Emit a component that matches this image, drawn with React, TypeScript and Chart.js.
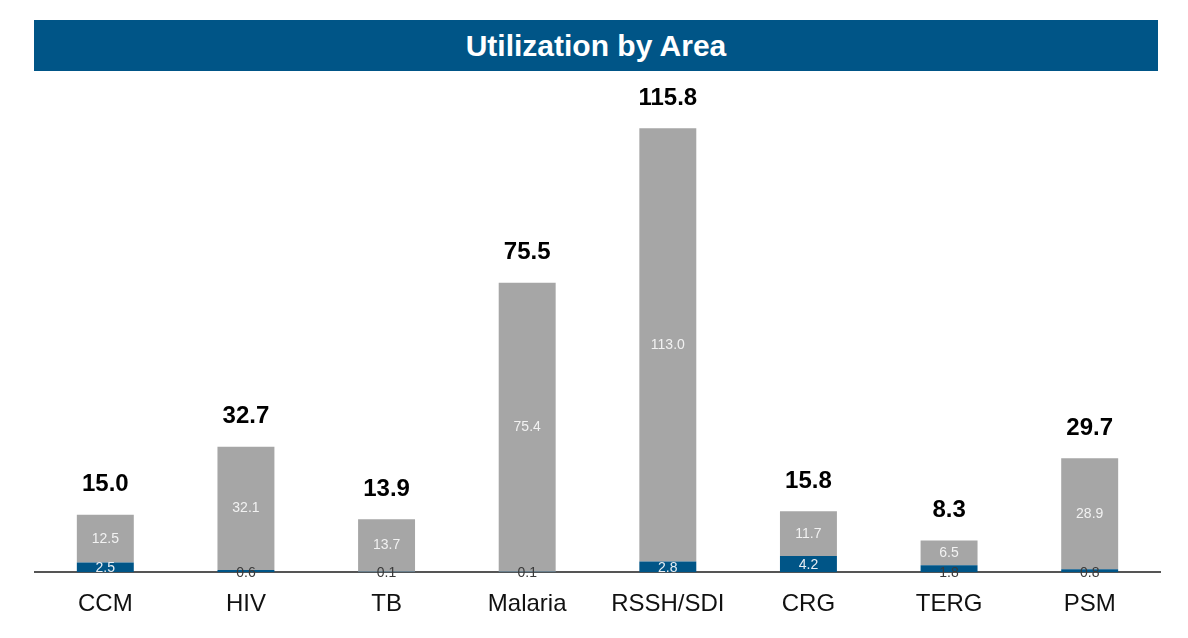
import React, { useEffect, useRef } from "react";
import { Chart, registerables } from "chart.js";

Chart.register(...registerables);

const categories = ["CCM", "HIV", "TB", "Malaria", "RSSH/SDI", "CRG", "TERG", "PSM"];
const blueValues = [2.5, 0.6, 0.1, 0.1, 2.8, 4.2, 1.8, 0.8];
const greyValues = [12.5, 32.1, 13.7, 75.4, 113.0, 11.7, 6.5, 28.9];
const totalValues = [15.0, 32.7, 13.9, 75.5, 115.8, 15.8, 8.3, 29.7];

const BLUE = "#005587";
const GREY = "#A6A6A6";
const FONT = "'Liberation Sans', Arial, sans-serif";

const labelPlugin = {
  id: "segLabels",
  afterDatasetsDraw(chart: any) {
    const ctx = chart.ctx;
    const yScale = chart.scales.y;
    ctx.save();
    ctx.textAlign = "center";
    ctx.textBaseline = "middle";
    chart.data.datasets.forEach((ds: any, di: number) => {
      const meta = chart.getDatasetMeta(di);
      meta.data.forEach((bar: any, i: number) => {
        const v = ds.data[i];
        const top = bar.y;
        const bottom = bar.base;
        const cy = (top + bottom) / 2;
        ctx.font = `14px ${FONT}`;
        if (di === 0) {
          ctx.fillStyle = v >= 2 ? "#E8EEF4" : "#3a3a3a";
          ctx.fillText(v.toFixed(1), bar.x, v >= 2 ? cy + 1 : bottom + 1);
        } else {
          ctx.fillStyle = "#F2F2F2";
          ctx.fillText(v.toFixed(1), bar.x, cy);
        }
      });
    });
    const meta1 = chart.getDatasetMeta(1);
    ctx.font = `bold 24px ${FONT}`;
    ctx.fillStyle = "#000";
    meta1.data.forEach((bar: any, i: number) => {
      const topY = yScale.getPixelForValue(blueValues[i] + greyValues[i]);
      ctx.fillText(totalValues[i].toFixed(1), bar.x, topY - 30);
    });
    ctx.restore();
  },
};

export default function App() {
  const ref = useRef<HTMLCanvasElement>(null);
  useEffect(() => {
    document.body.style.margin = "0";
    const chart = new Chart(ref.current!, {
      type: "bar",
      data: {
        labels: categories,
        datasets: [
          { label: "Blue", data: blueValues, backgroundColor: BLUE, barPercentage: 0.405, categoryPercentage: 1 },
          { label: "Grey", data: greyValues, backgroundColor: GREY, barPercentage: 0.405, categoryPercentage: 1 },
        ],
      },
      options: {
        responsive: false,
        animation: false,
        layout: { padding: { top: 93, left: 35, right: 28, bottom: 9 } },
        plugins: {
          legend: { display: false },
          tooltip: { enabled: false },
          title: { display: false },
        },
        scales: {
          x: {
            stacked: true,
            grid: { display: false },
            border: { display: true, color: "#555555", width: 2 },
            ticks: { color: "#111", font: { family: FONT, size: 24 }, padding: 10 },
          },
          y: {
            stacked: true,
            display: false,
            min: 0,
            max: 125,
          },
        },
      },
      plugins: [labelPlugin],
    });
    return () => chart.destroy();
  }, []);
  return (
    <div style={{ position: "relative", width: 1188, height: 638, background: "#fff" }}>
      <div
        style={{
          position: "absolute",
          left: 34,
          top: 20,
          width: 1124,
          height: 51,
          background: BLUE,
          color: "#fff",
          fontFamily: FONT,
          fontWeight: "bold",
          fontSize: 30,
          display: "flex",
          alignItems: "center",
          justifyContent: "center",
        }}
      >
        Utilization by Area
      </div>
      <canvas ref={ref} width={1188} height={638} style={{ display: "block" }} />
    </div>
  );
}
